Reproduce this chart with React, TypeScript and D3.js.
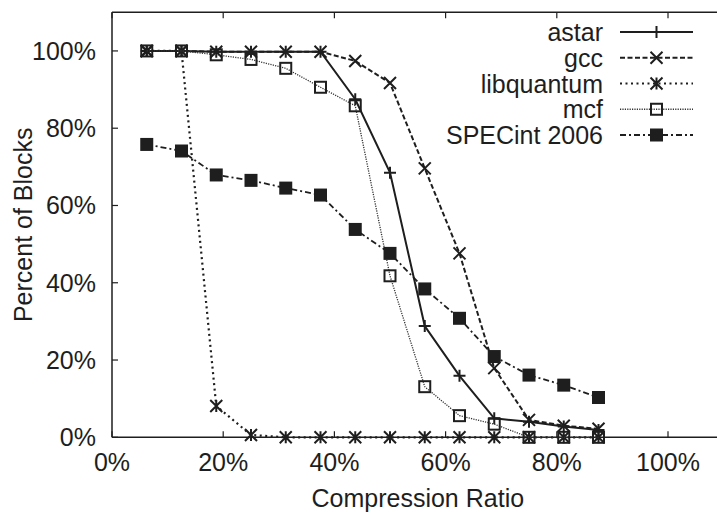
import React from "react";
import * as d3 from "d3";

const ratios = [0.0625, 0.125, 0.1875, 0.25, 0.3125, 0.375, 0.4375, 0.5, 0.5625, 0.625, 0.6875, 0.75, 0.8125, 0.875];
const astar = [100, 100, 99.8, 99.8, 99.8, 99.8, 87.5, 68.5, 28.8, 15.9, 4.9, 4.0, 2.8, 1.9];
const gcc = [100, 100, 99.8, 99.8, 99.8, 99.8, 97.4, 91.7, 69.6, 47.6, 17.9, 4.5, 3.0, 2.2];
const libquantum = [100, 100, 8.1, 0.6, 0, 0, 0, 0, 0, 0, 0, 0, 0, 0];
const mcf = [100, 100, 99, 97.8, 95.5, 90.6, 85.8, 41.8, 13.1, 5.6, 3.4, 0, 0, 0];
const specint = [75.8, 74.1, 67.9, 66.5, 64.5, 62.7, 53.8, 47.6, 38.4, 30.8, 20.9, 16.1, 13.5, 10.3];

const seriesNames = ["astar", "gcc", "libquantum", "mcf", "SPECint 2006"];
const xTicks = [0, 0.2, 0.4, 0.6, 0.8, 1.0];
const yTicks = [0, 20, 40, 60, 80, 100];

const W = 717, H = 514;
const x = d3.scaleLinear().domain([0, 1.1]).range([112, 723.6]);
const y = d3.scaleLinear().domain([0, 110]).range([437.3, 12.3]);
const INK = "#1e1e1e";
const FONT = "'Liberation Sans', Arial, Helvetica, sans-serif";
const FS = 25;

type Style = { dash: string; width: number; marker: string; color: string };
const styles: Style[] = [
  { dash: "", width: 2, marker: "plus", color: INK },
  { dash: "5,2.5", width: 2, marker: "x", color: INK },
  { dash: "2,3.5", width: 2.2, marker: "star", color: INK },
  { dash: "1.2,1.2", width: 1.3, marker: "box", color: "#333" },
  { dash: "6,3,2,3", width: 1.8, marker: "fbox", color: INK },
];

function Marker({ kind, cx, cy }: { kind: string; cx: number; cy: number }) {
  const s = 6;
  const st = { stroke: INK, strokeWidth: 2, fill: "none" };
  if (kind === "plus")
    return <path d={`M${cx - s},${cy}H${cx + s}M${cx},${cy - s}V${cy + s}`} {...st} />;
  if (kind === "x")
    return <path d={`M${cx - s},${cy - s}L${cx + s},${cy + s}M${cx - s},${cy + s}L${cx + s},${cy - s}`} {...st} />;
  if (kind === "star")
    return (
      <path
        d={`M${cx - s},${cy - s}L${cx + s},${cy + s}M${cx - s},${cy + s}L${cx + s},${cy - s}M${cx},${cy - s}V${cy + s}`}
        {...st}
      />
    );
  if (kind === "box")
    return <rect x={cx - 5.5} y={cy - 5.5} width={11} height={11} stroke={INK} strokeWidth={2} fill="none" />;
  return <rect x={cx - 6.5} y={cy - 6.5} width={13} height={13} fill={INK} />;
}

export default function App() {
  const data = [astar, gcc, libquantum, mcf, specint];
  const line = d3
    .line<number>()
    .x((_, i) => x(ratios[i]))
    .y((v) => y(v));
  const legendRowY = (i: number) => 32 + i * 25.75;
  const plotMidX = (x.range()[0] + x.range()[1]) / 2;
  const plotMidY = (y.range()[0] + y.range()[1]) / 2;
  return (
    <svg width={W} height={H} style={{ position: "absolute", left: 0, top: 0, background: "#fff" }} fontFamily={FONT}>
      {/* frame */}
      <g stroke={INK} strokeWidth={1.5} fill="none">
        <line x1={x(0)} x2={W} y1={y(0)} y2={y(0)} />
        <line x1={x(0)} x2={W} y1={y(110)} y2={y(110)} />
        <line x1={x(0)} x2={x(0)} y1={y(0)} y2={y(110)} />
      </g>
      {/* ticks */}
      <g stroke={INK} strokeWidth={1.2}>
        {yTicks.map((t) => (
          <line key={"yt" + t} x1={x(0)} x2={x(0) + 6} y1={y(t)} y2={y(t)} />
        ))}
        {xTicks.map((t) => (
          <g key={"xt" + t}>
            <line x1={x(t)} x2={x(t)} y1={y(0)} y2={y(0) - 6} />
            <line x1={x(t)} x2={x(t)} y1={y(110)} y2={y(110) + 6} />
          </g>
        ))}
      </g>
      <g fill={INK} fontSize={FS}>
        {yTicks.map((t) => (
          <text key={"yl" + t} x={96} y={y(t)} dy="0.36em" textAnchor="end">
            {t}%
          </text>
        ))}
        {xTicks.map((t) => (
          <text key={"xl" + t} x={x(t)} y={471} textAnchor="middle">
            {Math.round(t * 100)}%
          </text>
        ))}
        <text x={plotMidX} y={507} textAnchor="middle">
          Compression Ratio
        </text>
        <text transform={`translate(32,${plotMidY}) rotate(-90)`} textAnchor="middle">
          Percent of Blocks
        </text>
      </g>
      {/* series */}
      <g>
        {data.map((vals, si) => (
          <g key={seriesNames[si]}>
            <path
              d={line(vals) || ""}
              fill="none"
              stroke={styles[si].color}
              strokeWidth={styles[si].width}
              strokeDasharray={styles[si].dash || undefined}
            />
            {vals.map((v, i) => (
              <Marker key={i} kind={styles[si].marker} cx={x(ratios[i])} cy={y(v)} />
            ))}
          </g>
        ))}
      </g>
      {/* legend */}
      <g fontSize={FS} fill={INK}>
        {seriesNames.map((n, i) => (
          <g key={"lg" + n}>
            <text x={603} y={legendRowY(i)} dy="0.36em" textAnchor="end">
              {n}
            </text>
            <line
              x1={620}
              x2={693}
              y1={legendRowY(i)}
              y2={legendRowY(i)}
              stroke={styles[i].color}
              strokeWidth={styles[i].width}
              strokeDasharray={styles[i].dash || undefined}
            />
            <Marker kind={styles[i].marker} cx={656.5} cy={legendRowY(i)} />
          </g>
        ))}
      </g>
    </svg>
  );
}
